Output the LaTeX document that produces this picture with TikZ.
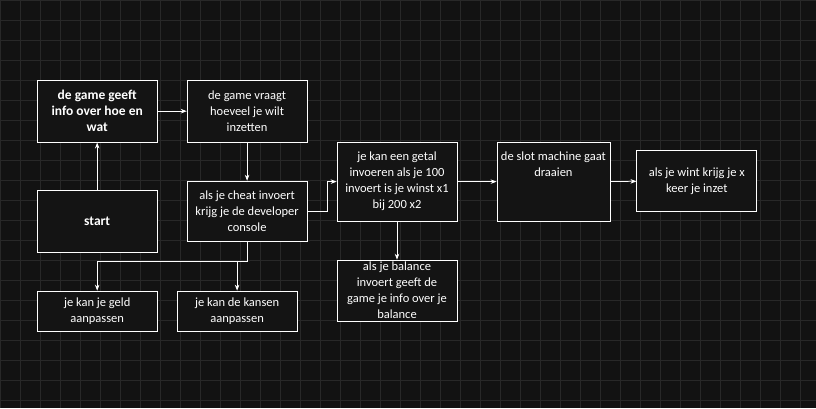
\documentclass[tikz,border=0pt]{standalone}
\usepackage{fontspec}
\setmainfont{Carlito}
\usetikzlibrary{arrows.meta}
\definecolor{canvas}{RGB}{18,18,18}
\definecolor{gridline}{RGB}{40,40,40}
\definecolor{boxfill}{RGB}{20,20,20}
\tikzset{every picture/.style={line width=0.75pt}}
\tikzset{
  step box/.style={draw=white, fill=boxfill, text=white, align=center, inner sep=2pt, font=\fontsize{12.5}{16}\selectfont},
  flow/.style={draw=white, -{Stealth[length=6pt]}}
}

\begin{document}
\begin{tikzpicture}[x=1pt,y=1pt,yscale=-1,xscale=1]
	%background with grid
	\fill[canvas] (0,0) rectangle (816,408);
	\draw[gridline, line width=0.5pt, step=20] (0,0) grid (816,408);
	\useasboundingbox (0,0) rectangle (816,408);
	
	%boxes
	\node[step box, minimum width=120, minimum height=62, font=\bfseries\fontsize{13.5}{16}\selectfont] (info) at (97,111) {de game geeft\\info over hoe en\\wat};
	\node[step box, minimum width=120, minimum height=62] (inzet) at (247,111) {de game vraagt\\hoeveel je wilt\\inzetten};
	\node[step box, minimum width=120, minimum height=62, font=\bfseries\fontsize{13.5}{16}\selectfont] (start) at (97,221) {start};
	\node[step box, minimum width=120, minimum height=60] (cheat) at (247,211) {als je cheat invoert\\krijg je de developer\\console};
	\node[step box, minimum width=120, minimum height=79] (getal) at (397,181.5) {je kan een getal\\invoeren als je 100\\invoert is je winst x1\\bij 200 x2};
	\node[step box, minimum width=120, minimum height=61] (balance) at (397,290.5) {als je balance\\invoert geeft de\\game je info over je\\balance};
	\node[step box, minimum width=120, minimum height=40] (geld) at (97,311) {je kan je geld\\aanpassen};
	\node[step box, minimum width=120, minimum height=40] (kansen) at (237,311) {je kan de kansen\\aanpassen};
	\node[step box, minimum width=113, minimum height=79] (slot) at (553.5,181.5) {de slot machine gaat\\draaien\\[18pt]};
	\node[step box, minimum width=120, minimum height=61] (win) at (697,181) {als je wint krijg je x\\keer je inzet};
	
	%connectors
	\draw[flow] (start) -- (info);
	\draw[flow] (info) -- (inzet);
	\draw[flow] (inzet) -- (cheat);
	\draw[flow] (cheat.east) -- ++(20,0) |- (getal.west);
	\draw[flow] (cheat.south) -- ++(0,20) -| (geld.north);
	\draw[flow] (cheat.south) -- ++(0,20) -| (kansen.north);
	\draw[flow] (getal) -- (balance);
	\draw[flow] (getal) -- (slot);
	\draw[flow] (slot) -- (win);
\end{tikzpicture}
\end{document}
